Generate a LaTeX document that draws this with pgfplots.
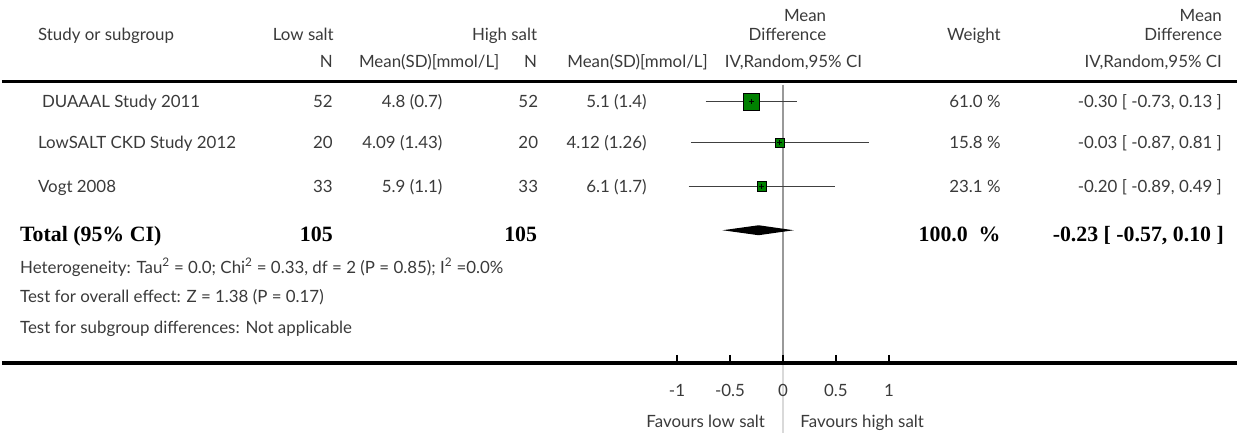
\documentclass[border=0pt]{standalone}
\usepackage{pgfplots}
\pgfplotsset{compat=1.18}
\usepackage{fontspec}
\setmainfont{Lato}
\newfontfamily\totalfont{Liberation Serif}

\definecolor{txt}{HTML}{3A3A3A}
\definecolor{sq}{HTML}{008000}

% horizontal position in pixels -> mean-difference units
\newcommand{\X}[1]{(#1-783.5)/106.3}

\begin{document}
\begin{tikzpicture}[
  lbl/.style={inner sep=0pt, text=txt, font=\fontsize{17}{19}\selectfont,
              text height=12.2bp, text depth=0pt},
  tot/.style={inner sep=0pt, text=black, font=\fontsize{22}{24}\selectfont\totalfont\bfseries,
              text height=14.6bp, text depth=0pt},
]
\begin{axis}[
  width=1239bp, height=434bp, scale only axis,
  xmin=-7.3706, xmax=4.2850, ymin=-434, ymax=0,
  hide axis, clip=false,
]
% keep the whole plotting area in the picture
\path (axis cs:-7.3706,-434) rectangle (axis cs:4.2850,0);

% table rules
\addplot[black, line width=3.5bp] coordinates {(-7.3706,-82) (4.2850,-82)};
\addplot[black, line width=4bp] coordinates {(-7.3706,-364) (4.2850,-364)};

% line of no effect
\addplot[black!40, line width=1.2bp] coordinates {(0,-85) (0,-362)};
\addplot[black!15, line width=1.2bp] coordinates {(0,-366) (0,-434)};

% scale ticks
\addplot[only marks, mark=|, mark size=4bp, mark options={line width=2.5bp, black}]
  coordinates {(-1,-360) (-0.5,-360) (0,-360) (0.5,-360) (1,-360)};

% confidence intervals
\addplot[black!75, line width=1.3bp] coordinates {(-0.73,-102) (0.13,-102)};
\addplot[black!75, line width=1.3bp] coordinates {(-0.87,-143) (0.81,-143)};
\addplot[black!75, line width=1.3bp] coordinates {(-0.89,-187) (0.49,-187)};

% study estimates, box area by weight
\addplot[only marks, mark=square*, mark size=8.5bp, mark options={fill=sq, draw=none}]
  coordinates {(-0.30,-102)};
\addplot[only marks, mark=square*, mark size=4.4bp, mark options={fill=sq, draw=none}]
  coordinates {(-0.03,-143)};
\addplot[only marks, mark=square*, mark size=4.8bp, mark options={fill=sq, draw=none}]
  coordinates {(-0.20,-187)};
\addplot[only marks, mark=+, mark size=2.5bp, mark options={black, line width=0.8bp}]
  coordinates {(-0.30,-102) (-0.03,-143) (-0.20,-187)};

% pooled estimate
\addplot[fill=black, draw=none] coordinates {(-0.57,-231) (-0.23,-226) (0.10,-231) (-0.23,-236)} -- cycle;

% header
\node[lbl, anchor=east] at (axis cs:{\X{827}},-15) {Mean};
\node[lbl, anchor=east] at (axis cs:{\X{1224}},-15) {Mean};
\node[lbl, anchor=west] at (axis cs:{\X{36}},-35) {Study or subgroup};
\node[lbl, anchor=east] at (axis cs:{\X{333}},-35) {Low salt};
\node[lbl, anchor=east] at (axis cs:{\X{537}},-35) {High salt};
\node[lbl, anchor=east] at (axis cs:{\X{827}},-35) {Difference};
\node[lbl, anchor=center] at (axis cs:{\X{975}},-35) {Weight};
\node[lbl, anchor=east] at (axis cs:{\X{1224}},-35) {Difference};
\node[lbl, anchor=east] at (axis cs:{\X{332}},-62) {N};
\node[lbl, anchor=west] at (axis cs:{\X{358}},-62) {Mean(SD)[mmol/L]};
\node[lbl, anchor=east] at (axis cs:{\X{537}},-62) {N};
\node[lbl, anchor=west] at (axis cs:{\X{567}},-62) {Mean(SD)[mmol/L]};
\node[lbl, anchor=west] at (axis cs:{\X{725}},-62) {IV,Random,95\% CI};
\node[lbl, anchor=east] at (axis cs:{\X{1224}},-62) {IV,Random,95\% CI};

% studies
\node[lbl, anchor=west] at (axis cs:{\X{40}},-102) {DUAAAL Study 2011};
\node[lbl, anchor=east] at (axis cs:{\X{332}},-102) {52};
\node[lbl, anchor=east] at (axis cs:{\X{442}},-102) {4.8 (0.7)};
\node[lbl, anchor=east] at (axis cs:{\X{538}},-102) {52};
\node[lbl, anchor=east] at (axis cs:{\X{647}},-102) {5.1 (1.4)};
\node[lbl, anchor=east] at (axis cs:{\X{1002}},-102) {61.0 \%};
\node[lbl, anchor=east] at (axis cs:{\X{1224}},-102) {-0.30 [ -0.73, 0.13 ]};

\node[lbl, anchor=west] at (axis cs:{\X{36}},-143) {LowSALT CKD Study 2012};
\node[lbl, anchor=east] at (axis cs:{\X{332}},-143) {20};
\node[lbl, anchor=east] at (axis cs:{\X{442}},-143) {4.09 (1.43)};
\node[lbl, anchor=east] at (axis cs:{\X{538}},-143) {20};
\node[lbl, anchor=east] at (axis cs:{\X{647}},-143) {4.12 (1.26)};
\node[lbl, anchor=east] at (axis cs:{\X{1002}},-143) {15.8 \%};
\node[lbl, anchor=east] at (axis cs:{\X{1224}},-143) {-0.03 [ -0.87, 0.81 ]};

\node[lbl, anchor=west] at (axis cs:{\X{36}},-187) {Vogt 2008};
\node[lbl, anchor=east] at (axis cs:{\X{332}},-187) {33};
\node[lbl, anchor=east] at (axis cs:{\X{442}},-187) {5.9 (1.1)};
\node[lbl, anchor=east] at (axis cs:{\X{538}},-187) {33};
\node[lbl, anchor=east] at (axis cs:{\X{647}},-187) {6.1 (1.7)};
\node[lbl, anchor=east] at (axis cs:{\X{1002}},-187) {23.1 \%};
\node[lbl, anchor=east] at (axis cs:{\X{1224}},-187) {-0.20 [ -0.89, 0.49 ]};

% total
\node[tot, anchor=west] at (axis cs:{\X{18}},-235) {Total (95\% CI)};
\node[tot, anchor=east] at (axis cs:{\X{332}},-235) {105};
\node[tot, anchor=east] at (axis cs:{\X{537}},-235) {105};
\node[tot, anchor=east] at (axis cs:{\X{1002}},-235) {100.0\hspace{0.5em}\%};
\node[tot, anchor=east] at (axis cs:{\X{1226}},-235) {-0.23 [ -0.57, 0.10 ]};

% notes
\node[lbl, anchor=west] at (axis cs:{\X{18}},-268) {Heterogeneity: Tau\textsuperscript{2} = 0.0; Chi\textsuperscript{2} = 0.33, df = 2 (P = 0.85); I\textsuperscript{2} =0.0\%};
\node[lbl, anchor=west] at (axis cs:{\X{18}},-297) {Test for overall effect: Z = 1.38 (P = 0.17)};
\node[lbl, anchor=west] at (axis cs:{\X{18}},-328) {Test for subgroup differences: Not applicable};

% scale labels
\node[lbl, anchor=center] at (axis cs:-1,-392) {-1};
\node[lbl, anchor=center] at (axis cs:-0.5,-392) {-0.5};
\node[lbl, anchor=center] at (axis cs:0,-392) {0};
\node[lbl, anchor=center] at (axis cs:0.5,-392) {0.5};
\node[lbl, anchor=center] at (axis cs:1,-392) {1};
\node[lbl, anchor=center] at (axis cs:{\X{706}},-423) {Favours low salt};
\node[lbl, anchor=center] at (axis cs:{\X{863}},-423) {Favours high salt};

\end{axis}
\end{tikzpicture}
\end{document}
